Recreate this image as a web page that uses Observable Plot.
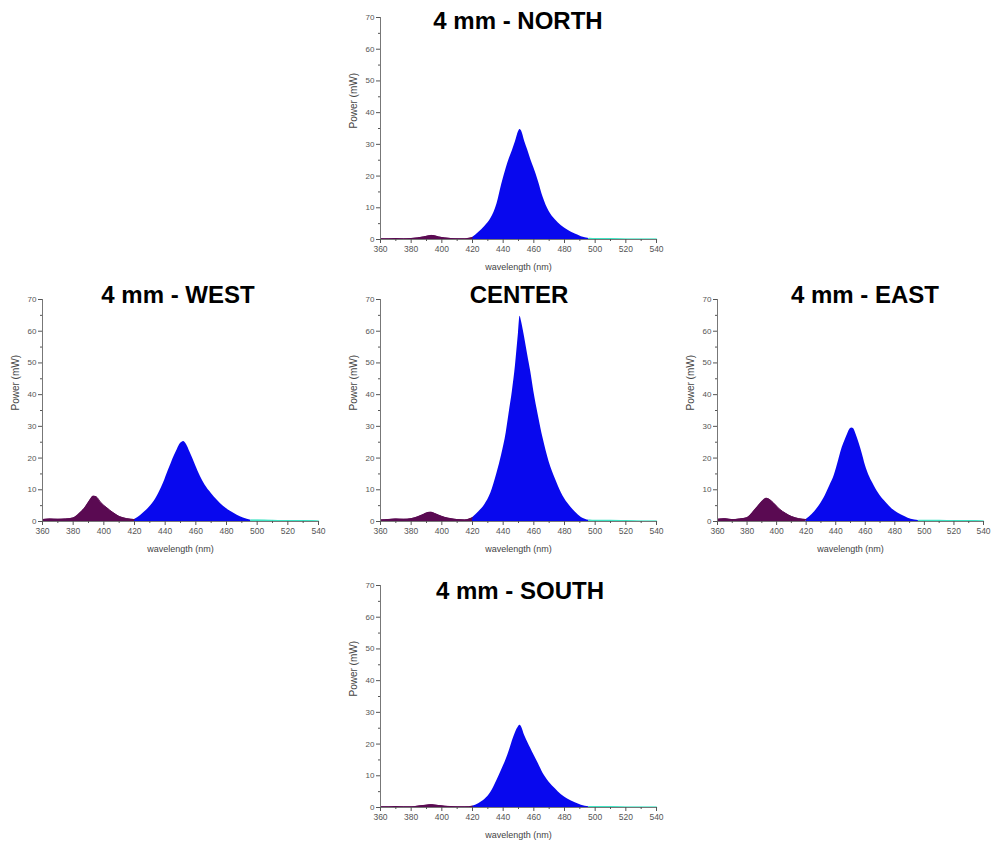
<!DOCTYPE html>
<html><head><meta charset="utf-8">
<script src="https://cdn.jsdelivr.net/npm/d3@7"></script>
<script src="https://cdn.jsdelivr.net/npm/@observablehq/plot@0.6"></script>
<style>
html,body{margin:0;padding:0;background:#fff;overflow:hidden;}
#root{position:relative;width:993px;height:845px;overflow:hidden;}
.panel{position:absolute;height:272px;}
.panel svg{max-width:none !important;}
.title{position:absolute;font:bold 24px "Liberation Sans",Arial,sans-serif;line-height:1;white-space:nowrap;transform:translateX(-50%);color:#000;}
</style></head><body><div id="root"></div>
<script>
// Wavelength samples (nm)
const wavelengths = [360,365,370,375,380,384,388,391,393,395,398,402,406,410,415,420,424,428,432,436,439,442,444,446,448,450,451,452,454,456,458,460,463,466,470,474,478,482,487,491,496,500,510,520,530,540];
// Power (mW) per position
const north  = [0.2,0.2,0.3,0.2,0.3,0.5,0.8,1.1,1.3,1.2,0.8,0.5,0.3,0.2,0.2,0.6,2.2,4.1,6.6,11.3,17.3,22.5,25.5,28,30.8,34.0,34.7,34.2,31,28.2,25.2,22.6,18.3,13.4,8.8,6.2,4.3,3.0,1.7,0.9,0.3,0.2,0.2,0.1,0.1,0.1];
const west   = [0.6,0.8,0.7,0.8,1.1,2.5,4.6,6.8,8.0,7.8,6.0,4.3,2.8,1.6,0.9,0.6,1.9,3.6,5.8,9.1,12.2,16.0,18.4,20.7,22.8,24.6,25.0,25.2,24.2,22.1,19.9,17.5,14.2,11.5,8.9,6.7,4.8,3.4,2.0,1.1,0.4,0.4,0.3,0.2,0.2,0.1];
const center = [0.5,0.6,0.8,0.7,0.9,1.4,2.2,2.8,2.9,2.6,2.0,1.3,0.9,0.6,0.5,1.2,3.0,5.3,9.0,15.3,21,28,34.5,41,49,59.5,64.7,63,58,52.5,47.2,41,33.3,26.3,18.8,13.5,9.0,5.8,3.0,1.3,0.4,0.3,0.3,0.2,0.1,0.1];
const east   = [0.7,0.9,0.6,0.8,1.2,3.0,5.2,6.7,7.3,7.0,5.8,3.9,2.6,1.6,0.9,0.6,2.2,4.4,7.3,11.3,14.5,19.3,22.7,25.2,27.5,29.3,29.5,29.3,27.2,24.4,21.3,17.8,14.0,11.3,8.2,6.0,4.0,2.7,1.5,0.7,0.3,0.3,0.3,0.2,0.2,0.1];
const south  = [0.2,0.2,0.3,0.2,0.2,0.4,0.6,0.8,0.9,0.8,0.6,0.4,0.3,0.2,0.2,0.4,1.2,2.5,4.8,8.6,11.8,15.2,17.9,21.0,23.6,25.5,25.9,25.4,22.7,20.6,18.6,16.6,13.8,10.8,8.0,5.9,4.0,2.7,1.5,0.7,0.2,0.2,0.2,0.1,0.1,0.1];

const panelTitles = ["4 mm - NORTH", "4 mm - WEST", "CENTER", "4 mm - EAST", "4 mm - SOUTH"];
const xTicks = [360,380,400,420,440,460,480,500,520,540];
const xMinorTicks = [370,390,410,430,450,470,490,510,530];
const yTicks = [0,10,20,30,40,50,60,70];
const yMinorTicks = [5,15,25,35,45,55,65];
const bandEdges = [420, 496];
const bandColors = ["#5a0a52", "#0808ee", "#3fe3c2"];
const xLabel = "wavelength (nm)";
const yLabel = "Power (mW)";

const layout = [
  {series: north,  title: panelTitles[0], left: 335, top: 7,   w: 331, tx: 518, ty: 9},
  {series: west,   title: panelTitles[1], left: -3,  top: 289, w: 331, tx: 178, ty: 283},
  {series: center, title: panelTitles[2], left: 335, top: 289, w: 331, tx: 519, ty: 283},
  {series: east,   title: panelTitles[3], left: 672, top: 289, w: 321, tx: 865, ty: 283},
  {series: south,  title: panelTitles[4], left: 335, top: 575, w: 331, tx: 520, ty: 579}
];

function makePanel(values, w) {
  const rows = wavelengths.map((x, i) => ({w: x, p: values[i]}));
  const violet = rows.filter(d => d.w <= bandEdges[0]);
  const blue = rows.filter(d => d.w >= bandEdges[0] && d.w <= bandEdges[1]);
  const cyan = rows.filter(d => d.w >= bandEdges[1]);
  return Plot.plot({
    width: w, height: 272,
    marginLeft: 45, marginRight: 10, marginTop: 10, marginBottom: 40,
    x: {domain: [360, 540]},
    y: {domain: [0, 70]},
    style: {fontFamily: "Liberation Sans, Arial, sans-serif", fontSize: "8px", color: "#555", background: "transparent", overflow: "visible"},
    marks: [
      Plot.areaY(violet, {x: "w", y: "p", fill: bandColors[0], curve: "monotone-x"}),
      Plot.areaY(blue, {x: "w", y: "p", fill: bandColors[1], curve: "monotone-x"}),
      Plot.areaY(cyan, {x: "w", y: "p", fill: bandColors[2], curve: "monotone-x"}),
      Plot.lineY(cyan, {x: "w", y: "p", stroke: bandColors[2], strokeWidth: 1.5, curve: "monotone-x"}),
      Plot.lineY(violet, {x: "w", y: "p", stroke: bandColors[0], strokeWidth: 1, curve: "monotone-x"}),
      Plot.ruleX([360], {stroke: "#777"}),
      Plot.ruleY([0], {stroke: "#777"}),
      Plot.axisX({ticks: xTicks, tickSize: 4, tickPadding: 2, label: null, fontSize: 8.5}),
      Plot.axisX({ticks: xMinorTicks, tickSize: 2, tickFormat: () => "", label: null}),
      Plot.axisY({ticks: yTicks, tickSize: 4, tickPadding: 2, label: null, fontSize: 8}),
      Plot.axisY({ticks: yMinorTicks, tickSize: 2, tickFormat: () => "", label: null}),
      Plot.text([yLabel], {frameAnchor: "left", rotate: -90, dx: -27, fontSize: 10, fill: "#444"}),
      Plot.text([xLabel], {frameAnchor: "bottom", dy: 30, fontSize: 9, fill: "#444"})
    ]
  });
}

const root = document.getElementById("root");
for (const p of layout) {
  const wrap = document.createElement("div");
  wrap.className = "panel";
  wrap.style.left = p.left + "px";
  wrap.style.top = p.top + "px";
  wrap.style.width = p.w + "px";
  wrap.appendChild(makePanel(p.series, p.w));
  root.appendChild(wrap);
  const t = document.createElement("div");
  t.className = "title";
  t.textContent = p.title;
  t.style.left = p.tx + "px";
  t.style.top = p.ty + "px";
  root.appendChild(t);
}
</script>
</body></html>
